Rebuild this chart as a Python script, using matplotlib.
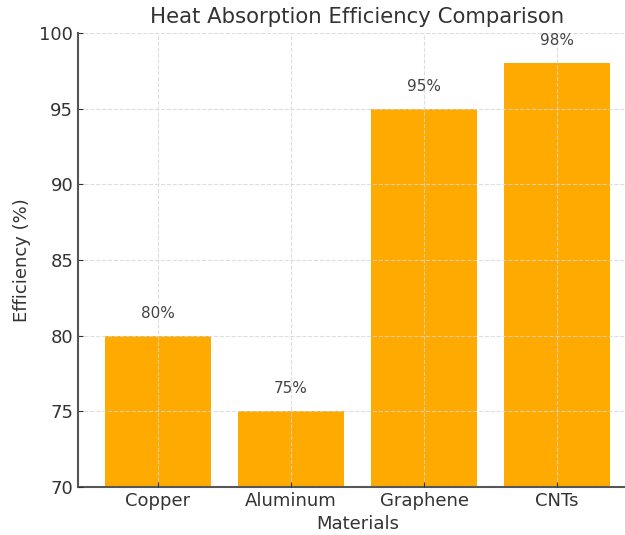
import matplotlib.pyplot as plt

materials = ['Copper', 'Aluminum', 'Graphene', 'CNTs']
efficiency = [80, 75, 95, 98]
bar_color = '#FFAA00'

fig = plt.figure(figsize=(6.25, 5.35), dpi=100)
ax = fig.add_axes([78 / 625, 48 / 535, 559 / 625, 454 / 535])

bars = ax.bar(materials, efficiency, color=bar_color, width=0.8, zorder=1)
ax.set_xlim(-0.6, 3.6)
ax.set_ylim(70, 100)

# value labels above each bar
for x, v in zip(range(len(materials)), efficiency):
    ax.text(x, v + 1, f'{v}%', ha='center', va='bottom', fontsize=11, color='#444444')

ax.grid(True, linestyle='--', color='#d5d5d5', alpha=0.8, zorder=3)
ax.set_axisbelow(False)
for s in ['top', 'right']:
    ax.spines[s].set_visible(False)
for s in ['left', 'bottom']:
    ax.spines[s].set_color('#555555')
    ax.spines[s].set_linewidth(1.5)
ax.tick_params(direction='in', labelsize=13, colors='#333333')

ax.set_title('Heat Absorption Efficiency Comparison', fontsize=15.3, color='#333333', pad=7)
ax.set_xlabel('Materials', fontsize=13, color='#333333')
ax.set_ylabel('Efficiency (%)', fontsize=13, color='#333333', labelpad=6)

fig.savefig('out.png', dpi=100)
